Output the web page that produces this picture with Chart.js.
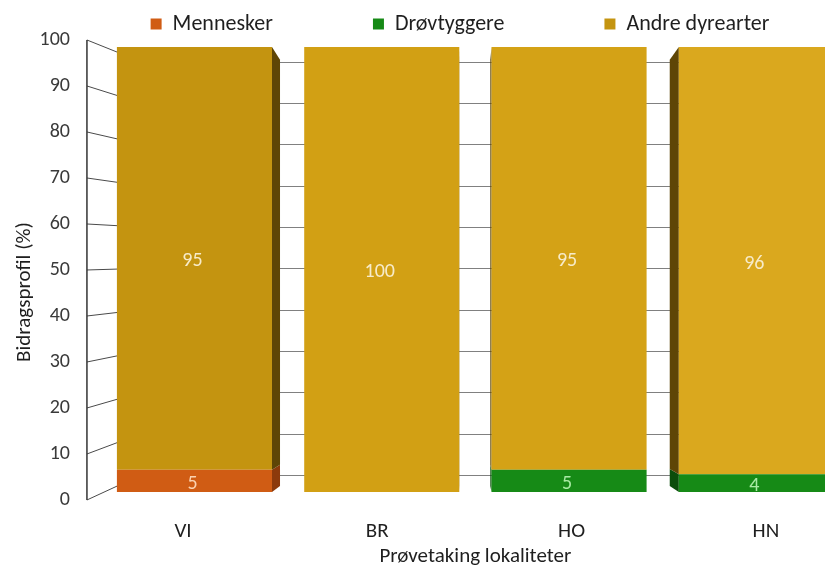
<!DOCTYPE html>
<html>
<head>
<meta charset="utf-8">
<script src="https://cdn.jsdelivr.net/npm/chart.js@4.4.1/dist/chart.umd.min.js"></script>
<style>
  html, body { margin: 0; padding: 0; background: #ffffff; }
  #wrap { width: 825px; height: 568px; overflow: hidden; position: relative; }
  canvas { display: block; }
</style>
</head>
<body>
<div id="wrap"><canvas id="chart" width="920" height="568"></canvas></div>
<script>
// Sampling sites and contribution profile (%) per source group
const sites = ['VI', 'BR', 'HO', 'HN'];
const mennesker = [5, 0, 0, 0];
const drovtyggere = [0, 0, 5, 4];
const andreDyrearter = [95, 100, 95, 96];
const percentTicks = [0, 10, 20, 30, 40, 50, 60, 70, 80, 90, 100];

const FONT = 'Carlito, Lato, "Open Sans", sans-serif';
const TEXT = '#1f1f1f';

// Pseudo-3D geometry, expressed in scale units
const AXIS_FRONT = -0.574;   // category units: front edge of the value axis
const AXIS_BACK = -0.285;    // category units: back corner of the side wall
const VANISH = { x: 1.434, y: 31.9 };   // vanishing point (category units, % on bar axis)
const DEPTH = 0.042;         // bar depth as a fraction of the distance to the vanishing point

const sideColors = ['#8c3a0c', '#0b4d0b', '#5e4506'];
const labelColors = ['#fbd2b0', '#a9eaa4', '#f7ebc9'];

// 3D frame (side wall, back wall, front axis) and bar side faces
const frame3d = {
  id: 'frame3d',
  beforeDatasetsDraw(chart) {
    const { ctx, chartArea, scales: { x, y, yb, yw } } = chart;
    const xFront = x.getPixelForValue(AXIS_FRONT);
    const xBack = x.getPixelForValue(AXIS_BACK);
    ctx.save();
    // back wall gridlines
    ctx.strokeStyle = '#808080';
    ctx.lineWidth = 1;
    percentTicks.forEach(v => {
      const py = Math.round(yw.getPixelForValue(v)) + 0.5;
      ctx.beginPath();
      ctx.moveTo(xBack, py);
      ctx.lineTo(chartArea.right, py);
      ctx.stroke();
    });
    // side wall lines from the front axis to the back corner
    ctx.strokeStyle = '#4a4a4a';
    percentTicks.forEach(v => {
      ctx.beginPath();
      ctx.moveTo(xFront, y.getPixelForValue(v));
      ctx.lineTo(xBack, yw.getPixelForValue(v));
      ctx.stroke();
    });
    // front value axis
    ctx.strokeStyle = '#333333';
    ctx.lineWidth = 1.5;
    ctx.beginPath();
    ctx.moveTo(xFront, y.getPixelForValue(0));
    ctx.lineTo(xFront, y.getPixelForValue(100));
    ctx.stroke();

    // side faces of the bars
    const vx = x.getPixelForValue(VANISH.x);
    const vy = yb.getPixelForValue(VANISH.y);
    const back = (px, py) => [px + (vx - px) * DEPTH, py + (vy - py) * DEPTH];
    chart.data.datasets.forEach((ds, i) => {
      const meta = chart.getDatasetMeta(i);
      meta.data.forEach(el => {
        const p = el.getProps(['x', 'y', 'base', 'width'], true);
        if (Math.abs(p.base - p.y) < 0.5) return;
        const left = p.x - p.width / 2;
        const right = p.x + p.width / 2;
        let edge = null;
        if (right < vx) edge = right;
        else if (left > vx) edge = left;
        if (edge === null) return;
        const b1 = back(edge, p.y);
        const b2 = back(edge, p.base);
        ctx.fillStyle = sideColors[i];
        ctx.beginPath();
        ctx.moveTo(edge, p.y);
        ctx.lineTo(b1[0], b1[1]);
        ctx.lineTo(b2[0], b2[1]);
        ctx.lineTo(edge, p.base);
        ctx.closePath();
        ctx.fill();
      });
    });
    ctx.restore();
  },
  afterDatasetsDraw(chart) {
    const { ctx } = chart;
    ctx.save();
    ctx.font = '20px ' + FONT;
    ctx.textAlign = 'center';
    ctx.textBaseline = 'middle';
    chart.data.datasets.forEach((ds, i) => {
      const meta = chart.getDatasetMeta(i);
      meta.data.forEach((el, j) => {
        const v = ds.data[j];
        if (!v) return;
        const p = el.getProps(['x', 'y', 'base'], true);
        ctx.fillStyle = labelColors[i];
        // value label sits at the middle of its segment, nudged toward the 3D centre
        ctx.fillText(String(v), p.x - 2, (p.y + p.base) / 2 + 3);
      });
    });
    ctx.restore();
  }
};

new Chart(document.getElementById('chart'), {
  type: 'bar',
  data: {
    labels: sites,
    datasets: [
      { label: 'Mennesker', data: mennesker, backgroundColor: '#d05c14', yAxisID: 'yb' },
      { label: 'Drøvtyggere', data: drovtyggere, backgroundColor: '#168a16', yAxisID: 'yb' },
      { label: 'Andre dyrearter', data: andreDyrearter,
        backgroundColor: ['#c49410', '#d2a014', '#d4a216', '#daa81e'], yAxisID: 'yb' }
    ]
  },
  options: {
    responsive: false,
    animation: false,
    events: [],
    devicePixelRatio: 1,
    layout: { padding: { top: -87, left: 0, right: 0, bottom: 0 } },
    datasets: {
      bar: { barPercentage: 0.828, categoryPercentage: 1, borderWidth: 0, clip: false }
    },
    plugins: {
      tooltip: { enabled: false },
      legend: {
        position: 'top',
        align: 'center',
        labels: {
          color: TEXT,
          font: { family: FONT, size: 22 },
          boxWidth: 11,
          boxHeight: 11,
          padding: 100
        }
      }
    },
    scales: {
      // bar placement (front faces)
      x: {
        type: 'category',
        stacked: true,
        display: false
      },
      // site labels along the front edge of the floor (wider than the bar row in perspective)
      xl: {
        type: 'linear',
        position: 'bottom',
        offset: false,
        min: -0.423,
        max: 3.433,
        grid: { display: false, drawTicks: false, offset: false },
        border: { display: false },
        afterBuildTicks(s) { s.ticks = sites.map((_, i) => ({ value: i })); },
        ticks: { color: TEXT, font: { family: FONT, size: 21 }, padding: 11.4, autoSkip: false,
                 callback: (v) => sites[v] },
        title: { display: true, text: 'Prøvetaking lokaliteter', color: TEXT,
                 font: { family: FONT, size: 21 }, padding: { top: 0, bottom: -1.5 } },
        afterFit(s) { s.height = 60; }
      },
      xt: {
        type: 'category',
        position: 'top',
        grid: { display: false, drawTicks: false },
        border: { display: false },
        ticks: { display: false },
        afterFit(s) { s.height = 31; }
      },
      y: {
        type: 'linear',
        position: 'left',
        min: -1.74,
        max: 92.17,
        grid: { display: false, drawTicks: false },
        border: { display: false },
        ticks: { color: '#3a3a3a', font: { family: FONT, size: 20 }, padding: 30.8, autoSkip: false },
        afterBuildTicks(s) { s.ticks = percentTicks.map(v => ({ value: v })); },
        title: { display: true, text: 'Bidragsprofil (%)', color: TEXT,
                 font: { family: FONT, size: 21 }, padding: { top: 12.4, bottom: 0 } },
        afterFit(s) { s.width = 100.8; }
      },
      yb: {
        type: 'linear',
        display: false,
        stacked: true,
        min: -3.6,
        max: 93.48
      },
      yw: {
        type: 'linear',
        position: 'right',
        min: -7.98,
        max: 96.54,
        grid: { display: false, drawTicks: false },
        border: { display: false },
        ticks: { display: false },
        afterFit(s) { s.width = 70; }
      }
    }
  },
  plugins: [frame3d]
});
</script>
</body>
</html>
